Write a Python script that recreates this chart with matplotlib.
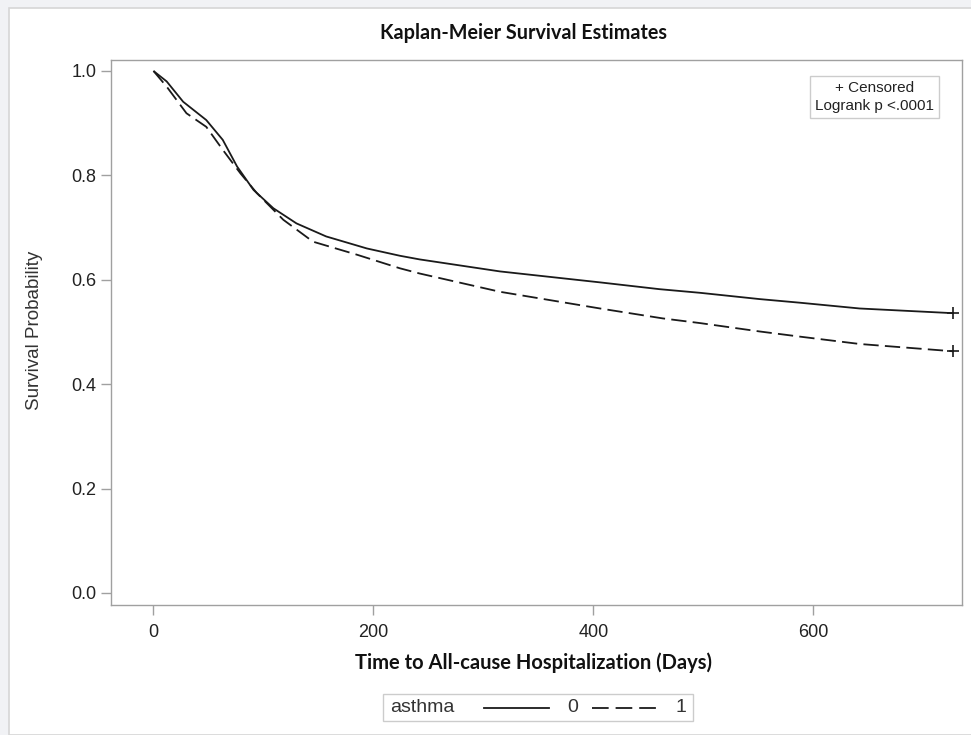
import matplotlib
matplotlib.use('Agg')
import matplotlib.pyplot as plt
from matplotlib.lines import Line2D
from matplotlib.patches import Rectangle

plt.rcParams['font.family'] = ['Liberation Sans', 'DejaVu Sans']
plt.rcParams['lines.scale_dashes'] = False

# Kaplan-Meier estimates, asthma = 0
days_0 = [0, 12, 27, 48, 63, 76, 91, 109, 130, 157, 194, 224, 242, 315, 406,
          460, 497, 551, 588, 642, 727]
surv_0 = [1.0, 0.980, 0.941, 0.906, 0.868, 0.817, 0.772, 0.737, 0.708, 0.683,
          0.660, 0.646, 0.639, 0.616, 0.595, 0.582, 0.575, 0.563, 0.556, 0.545,
          0.536]

# Kaplan-Meier estimates, asthma = 1
days_1 = [0, 12, 30, 48, 63, 79, 94, 118, 145, 185, 224, 242, 315, 406, 463,
          497, 551, 588, 642, 727]
surv_1 = [1.0, 0.970, 0.919, 0.893, 0.849, 0.804, 0.766, 0.715, 0.673, 0.648,
          0.622, 0.612, 0.577, 0.545, 0.526, 0.517, 0.501, 0.491, 0.477, 0.463]

group_labels = ['0', '1']
x_ticks = [0, 200, 400, 600]
y_ticks = [0.0, 0.2, 0.4, 0.6, 0.8, 1.0]

grey = '#a0a0a0'
ink = '#1a1a1a'
dash = (11, 4.5)
lw = 1.3

fig = plt.figure(figsize=(9.71, 7.35), dpi=100, facecolor='#f1f2f5')
# white panel with a thin border on top and left
fig.patches.append(Rectangle((9 / 971, 0), 1, 727 / 735, transform=fig.transFigure,
                             facecolor='white', edgecolor='#d6d6d6', lw=1.2, zorder=-10))

ax = fig.add_axes([111 / 971, 1 - 605 / 735, 851 / 971, 545 / 735])
ax.plot(days_0, surv_0, color=ink, lw=lw, solid_capstyle='butt')
ax.plot(days_1, surv_1, color=ink, lw=lw, dashes=dash)
# censored marks at the end of follow-up
ax.plot(days_0[-1], surv_0[-1], marker='+', ms=9, mew=1.2, color=ink)
ax.plot(days_1[-1], surv_1[-1], marker='+', ms=9, mew=1.2, color=ink)

ax.set_xlim(-38.6, 735)
ax.set_ylim(-0.023, 1.021)
ax.set_xticks(x_ticks)
ax.set_yticks(y_ticks)
ax.set_yticklabels([f'{v:.1f}' for v in y_ticks])
for s in ax.spines.values():
    s.set_color(grey)
    s.set_linewidth(1.0)
ax.tick_params(colors=grey, labelcolor='#222222', labelsize=13, length=7, width=1.0)
ax.tick_params(axis='x', pad=7)

ax.text(0.967, 0.962, '+ Censored\nLogrank p <.0001', transform=ax.transAxes,
        ha='right', va='top', fontsize=11, color='#222222', multialignment='center',
        linespacing=1.4,
        bbox=dict(boxstyle='square,pad=0.3', facecolor='white', edgecolor='#cccccc', lw=1))

fig.text(0.539, 0.955, 'Kaplan-Meier Survival Estimates', ha='center', va='center',
         fontsize=14.2, fontweight='bold', family='Lato', color='#111111')
fig.text(0.549, 0.099, 'Time to All-cause Hospitalization (Days)', ha='center',
         va='center', fontsize=14.5, fontweight='bold', family='Lato', color='#111111')
fig.text(0.036, 0.55, 'Survival Probability', rotation=90, ha='center', va='center',
         fontsize=13.5, color='#333333')

# group legend under the x axis
fig.patches.append(Rectangle((383 / 971, 1 - 721 / 735), 310 / 971, 27 / 735,
                             transform=fig.transFigure, facecolor='white',
                             edgecolor='#cccccc', lw=1, zorder=1))
ly = 1 - 708 / 735
fig.text(390 / 971, ly, 'asthma', ha='left', va='center', fontsize=14, color='#333333')
fig.lines.append(Line2D([484 / 971, 549 / 971], [ly, ly], transform=fig.transFigure,
                        color=ink, lw=lw, zorder=2))
fig.text(567 / 971, ly, group_labels[0], ha='left', va='center', fontsize=14, color='#333333')
fig.lines.append(Line2D([592 / 971, 657 / 971], [ly, ly], transform=fig.transFigure,
                        color=ink, lw=lw, dashes=(12, 5), zorder=2))
fig.text(675 / 971, ly, group_labels[1], ha='left', va='center', fontsize=14, color='#333333')

fig.savefig('out.png', dpi=100, facecolor=fig.get_facecolor())
